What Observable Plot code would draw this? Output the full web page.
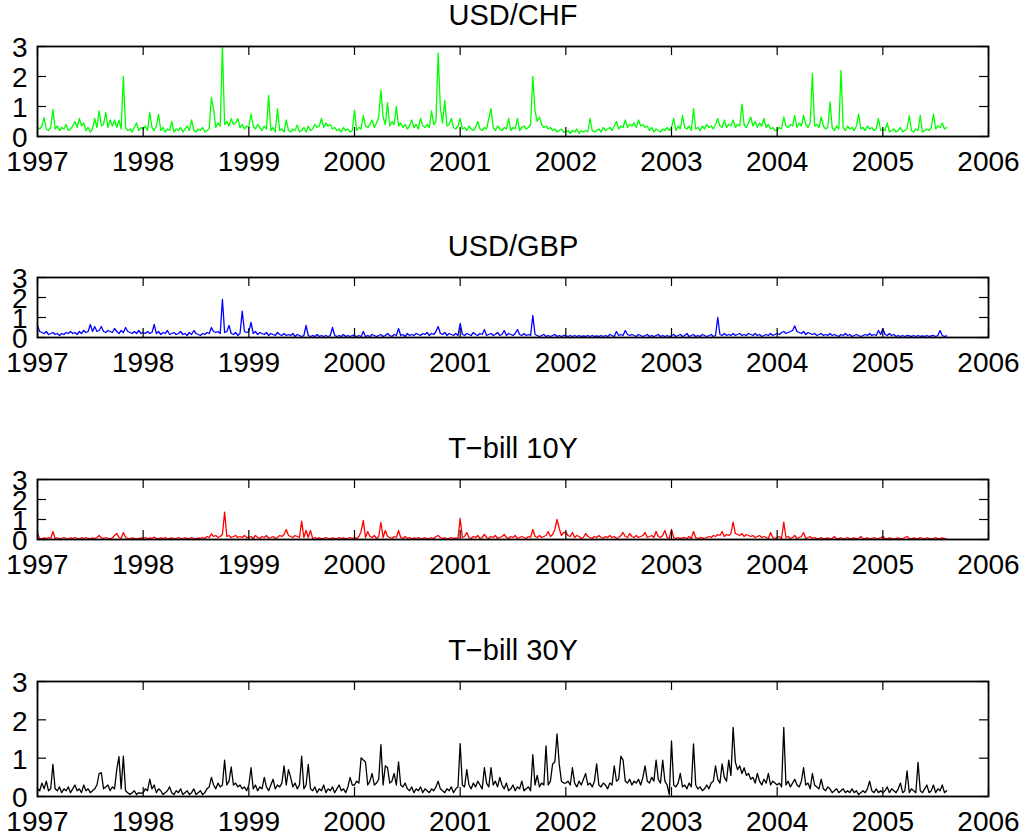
<!DOCTYPE html>
<html><head><meta charset="utf-8">
<script src="https://cdn.jsdelivr.net/npm/d3@7"></script>
<script src="https://cdn.jsdelivr.net/npm/@observablehq/plot@0.6"></script>
<style>
body{margin:0;background:#fff;}
#chart{position:relative;width:1025px;height:838px;overflow:hidden;background:#fff;}
#chart svg{position:absolute;left:0;}
</style></head><body><div id="chart"></div>
<script>
// Tick labels and titles
const years = [1997,1998,1999,2000,2001,2002,2003,2004,2005,2006];
const yTicks = [0,1,2,3];
const titles = ["USD/CHF","USD/GBP","T\u2212bill 10Y","T\u2212bill 30Y"];
const startYear = 1997;
const pointsPerYear = 48; // roughly weekly readings

// USD/CHF series (rows = years 1997..2005)
const usdChf = [
.3,.25,.35,.63,.25,.2,.3,.9,.25,.35,.2,.3,.25,.4,.2,.25,.35,.5,.3,.6,.35,.45,.2,.3,.15,.25,.6,.3,.85,.35,.4,.8,.3,.55,.35,.55,.3,.55,.25,2.0,.3,.2,.25,.15,.3,.45,.2,.3,
.25,.35,.2,.8,.3,.2,.35,.74,.2,.3,.15,.25,.2,.5,.15,.25,.2,.3,.15,.25,.35,.2,.55,.2,.15,.25,.2,.3,.15,.2,.25,1.3,.9,.3,.45,.35,3.0,.4,.5,.35,.6,.4,.45,.6,.3,.4,.25,.35,
.3,.75,.35,.25,.4,.3,.2,.35,.25,1.37,.2,.3,.15,.92,.2,.25,.15,.55,.2,.15,.25,.2,.38,.15,.2,.3,.15,.35,.2,.25,.4,.3,.35,.6,.3,.45,.35,.4,.25,.3,.2,.25,.15,.3,.2,.25,.15,.2,
.88,.2,.3,.25,.7,.35,.3,.4,.55,.3,.45,.65,1.55,.65,.4,1.13,.35,.5,.4,1.0,.35,.45,.3,.4,.25,.35,.55,.3,.4,.25,.6,.35,.3,.4,.3,.85,.4,.5,2.78,.95,.45,1.2,.35,.4,.6,.3,.25,.35,
.6,.25,.3,.2,.35,.25,.2,.3,.5,.25,.2,.3,.25,.6,.93,.3,.2,.35,.25,.2,.3,.25,.6,.2,.3,.25,.6,.2,.3,.35,.25,.3,.4,2.0,.85,.5,.65,.4,.3,.35,.25,.3,.2,.25,.15,.2,.25,.15,
.15,.2,.1,.2,.15,.25,.1,.2,.15,.2,.15,.6,.2,.15,.2,.25,.15,.3,.2,.25,.3,.2,.35,.5,.25,.35,.3,.55,.3,.4,.35,.45,.3,.55,.35,.4,.3,.35,.2,.3,.15,.25,.2,.15,.25,.2,.3,.2,
.3,.6,.2,.35,.25,.7,.3,.25,.35,.2,.93,.25,.3,.2,.35,.25,.4,.3,.35,.25,.4,.6,.35,.3,.55,.3,.4,.35,.55,.3,.4,.35,1.08,.4,.3,.45,.65,.35,.5,.3,.45,.35,.6,.3,.4,.25,.3,.2,
.2,.3,.25,.65,.35,.3,.4,.35,.7,.3,.45,.35,.7,.4,.3,.45,2.1,.35,.4,.3,.65,.35,.25,.3,1.15,.3,.2,.35,.25,2.2,.3,.2,.35,.25,.3,.2,.35,.75,.25,.3,.2,.35,.25,.3,.2,.25,.6,.2,
.25,.2,.45,.15,.2,.25,.15,.2,.3,.15,.2,.25,.7,.2,.15,.25,.2,.7,.15,.2,.25,.2,.3,.75,.25,.35,.3,.45,.25,.3
];

// USD/GBP series
const usdGbp = [
.6,.3,.25,.2,.3,.15,.2,.25,.15,.2,.1,.2,.15,.25,.2,.3,.2,.25,.15,.3,.2,.35,.25,.3,.65,.3,.55,.3,.35,.55,.3,.25,.35,.3,.25,.45,.3,.2,.35,.25,.5,.3,.25,.2,.3,.2,.35,.2,
.25,.2,.3,.2,.25,.65,.2,.3,.15,.25,.2,.35,.15,.2,.25,.15,.2,.3,.15,.2,.1,.25,.15,.35,.2,.15,.1,.2,.15,.25,.2,.5,.3,.25,.3,.2,1.9,.25,.3,.6,.2,.15,.25,.1,.2,1.32,.3,.25,
.3,.75,.2,.3,.15,.25,.2,.15,.25,.1,.2,.15,.1,.25,.15,.1,.2,.1,.15,.1,.2,.05,.15,.1,.05,.1,.6,.1,.05,.1,.05,.15,.05,.1,.05,.1,.05,.1,.5,.1,.05,.1,.05,.15,.05,.1,.05,.1,
.1,.05,.1,.05,.3,.05,.1,.05,.15,.1,.05,.1,.15,.05,.1,.2,.1,.05,.15,.1,.45,.1,.15,.05,.2,.1,.15,.1,.2,.15,.1,.2,.15,.25,.1,.2,.15,.3,.55,.2,.15,.25,.1,.2,.15,.1,.2,.1,
.7,.15,.1,.2,.15,.1,.25,.15,.1,.2,.15,.4,.1,.15,.2,.1,.15,.25,.1,.15,.35,.1,.2,.15,.1,.2,.4,.15,.1,.2,.1,.15,.1,1.1,.15,.1,.05,.1,.15,.05,.1,.05,.1,.15,.05,.1,.05,.1,
.1,.05,.1,.05,.1,.05,.1,.05,.08,.05,.1,.05,.1,.05,.08,.05,.1,.05,.1,.05,.15,.1,.05,.3,.1,.15,.1,.35,.15,.1,.15,.1,.05,.15,.1,.05,.1,.15,.05,.1,.05,.1,.15,.05,.1,.05,.1,.05,
.1,.15,.05,.1,.15,.05,.1,.2,.05,.1,.15,.05,.1,.05,.15,.1,.05,.1,.15,.05,.1,1.0,.15,.1,.2,.1,.15,.1,.2,.1,.15,.2,.1,.15,.1,.2,.15,.1,.2,.1,.15,.05,.1,.15,.1,.2,.1,.15,
.2,.15,.25,.3,.2,.25,.3,.35,.58,.3,.25,.2,.3,.15,.25,.2,.15,.2,.1,.15,.2,.1,.15,.1,.2,.1,.15,.1,.05,.15,.1,.2,.1,.15,.05,.1,.15,.1,.05,.1,.15,.1,.2,.1,.15,.1,.35,.15,
.45,.15,.1,.2,.1,.15,.05,.1,.05,.1,.05,.1,.08,.05,.1,.05,.1,.05,.08,.05,.1,.05,.08,.1,.05,.1,.35,.1,.05,.08
];

// T-bill 10Y series
const tbill10 = [
.3,.05,.03,.08,.05,.1,.05,.4,.05,.08,.03,.05,.1,.05,.03,.08,.05,.1,.05,.03,.08,.05,.1,.05,.03,.08,.05,.1,.2,.08,.05,.1,.05,.03,.08,.2,.3,.1,.05,.35,.1,.05,.03,.08,.05,.03,.05,.08,
.05,.1,.03,.08,.05,.12,.05,.03,.08,.05,.1,.03,.05,.08,.03,.05,.1,.05,.03,.08,.05,.03,.1,.05,.03,.08,.05,.1,.05,.15,.1,.28,.15,.2,.1,.15,.25,1.37,.15,.2,.1,.15,.2,.1,.15,.1,.2,.1,
.1,.15,.05,.2,.1,.05,.15,.1,.2,.05,.1,.15,.05,.1,.2,.15,.25,.5,.2,.15,.1,.2,.15,.1,.92,.1,.45,.1,.45,.05,.1,.05,.08,.03,.05,.1,.05,.03,.08,.05,.03,.1,.05,.08,.03,.05,.1,.05,
.1,.05,.15,.4,.95,.1,.4,.15,.1,.2,.05,.15,.85,.1,.45,.15,.1,.05,.15,.1,.45,.1,.05,.15,.05,.1,.03,.08,.05,.1,.03,.05,.08,.03,.05,.1,.05,.15,.2,.1,.05,.08,.03,.05,.1,.05,.08,.05,
1.05,.1,.15,.35,.1,.05,.15,.1,.2,.05,.1,.25,.1,.05,.15,.1,.2,.05,.1,.15,.25,.1,.05,.15,.1,.2,.05,.1,.15,.1,.05,.15,.1,.5,.15,.1,.2,.1,.15,.2,.4,.15,.25,.5,1.0,.55,.2,.35,
.35,.2,.15,.35,.1,.2,.15,.05,.1,.3,.15,.1,.05,.15,.1,.2,.1,.05,.15,.1,.2,.1,.15,.05,.1,.2,.35,.15,.1,.3,.15,.1,.2,.1,.15,.2,.35,.1,.15,.2,.1,.4,.15,.1,.2,.45,.1,.05,
.5,.1,.05,.1,.05,.08,.1,.05,.15,.05,.4,.1,.05,.1,.08,.05,.1,.15,.1,.2,.15,.25,.2,.4,.15,.25,.2,.3,.87,.3,.25,.2,.3,.15,.25,.2,.15,.2,.1,.15,.2,.1,.15,.1,.05,.35,.1,.05,
.1,.15,.05,.87,.1,.15,.05,.1,.2,.05,.1,.15,.35,.05,.1,.15,.05,.1,.03,.05,.1,.03,.05,.08,.03,.05,.15,.03,.05,.08,.03,.05,.1,.03,.05,.08,.03,.05,.15,.03,.05,.08,.03,.05,.1,.03,.05,.08,
.15,.05,.03,.08,.05,.03,.05,.08,.03,.05,.1,.15,.05,.03,.08,.05,.03,.1,.05,.03,.08,.05,.03,.05,.1,.03,.05,.08,.05,.03
];

// T-bill 30Y series
const tbill30 = [
.2,.15,.35,.2,.4,.15,.2,.84,.2,.15,.25,.1,.2,.15,.25,.1,.2,.3,.15,.2,.1,.3,.15,.2,.1,.15,.2,.3,.6,.62,.2,.25,.3,.15,.25,.2,.7,1.04,.2,1.05,.15,.1,.05,.1,.15,.05,.1,.08,
.1,.2,.15,.45,.2,.3,.1,.2,.15,.05,.1,.15,.25,.1,.05,.15,.1,.2,.05,.1,.15,.05,.1,.2,.05,.1,.15,.05,.1,.2,.25,.5,.3,.2,.35,.25,.3,.95,.3,.4,.77,.3,.35,.25,.3,.2,.25,.15,
.3,.75,.2,.3,.15,.25,.2,.5,.25,.15,.3,.45,.2,.3,.25,.35,.8,.3,.7,.5,.25,.35,.2,.3,1.05,.2,.3,.84,.2,.15,.25,.1,.2,.15,.3,.1,.2,.15,.25,.1,.2,.3,.15,.2,.1,.25,.5,.3,
.3,.4,.35,1.01,.95,.9,.3,.4,.6,.3,.35,.45,1.35,.3,.8,.75,.35,.4,.6,.3,.9,.3,.25,.35,.2,.15,.25,.1,.2,.15,.25,.1,.2,.15,.1,.2,.15,.25,.4,.2,.15,.1,.2,.15,.25,.1,.2,.25,
1.38,.3,.25,.7,.3,.2,.35,.25,.4,.3,.2,.75,.35,.25,.75,.3,.4,.25,.5,.3,.2,.35,.15,.2,.3,.15,.25,.2,.4,.15,.2,.25,.15,1.09,.3,.55,.25,.35,.3,1.32,.3,.4,.85,.9,1.63,.85,.4,.35,
.35,.4,.3,.75,.35,.25,.4,.3,.45,.6,.3,.35,.25,.4,.85,.3,.25,.35,.3,.2,.35,.3,.8,.4,.45,1.05,.95,.4,.35,.45,.3,.4,.35,.45,.3,.5,.8,.4,.35,.5,.4,.95,.45,.35,.95,.4,.3,.05,
1.45,.3,.25,.35,.6,.25,.3,.2,.35,.25,1.37,.3,.2,.25,.15,.2,.3,.2,.35,.4,.8,.45,.35,.85,.5,.4,.95,.55,1.8,.9,.7,.8,.6,.75,.55,.6,.45,.5,.35,.6,.4,.3,.45,.35,.6,.3,.4,.35,
.3,.35,.25,1.8,.3,.4,.25,.35,.45,.3,.25,.4,.75,.3,.35,.2,.6,.3,.25,.2,.45,.2,.15,.25,.2,.1,.15,.2,.1,.15,.2,.1,.15,.1,.2,.1,.15,.05,.1,.15,.1,.2,.4,.15,.1,.2,.1,.15,
.1,.15,.25,.1,.2,.15,.1,.2,.35,.1,.15,.67,.1,.2,.15,.1,.89,.15,.1,.2,.3,.1,.15,.3,.1,.2,.15,.3,.1,.15
];

const seriesValues = [usdChf, usdGbp, tbill10, tbill30];
const seriesColors = ["#00ff00", "#0000ff", "#ff0000", "#000000"];

// Layout (pixel geometry of the four stacked axes)
const W = 1025, mL = 37, mR = 37, mT = 46, mB = 42;
const layout = [
  {top: 0, h: 90},
  {top: 231, h: 60},
  {top: 433, h: 60},
  {top: 635, h: 115}
];
const font = '"Liberation Sans", Arial, Helvetica, sans-serif';
const chart = document.getElementById("chart");

seriesValues.forEach((vals, k) => {
  const data = vals.map((v, i) => ({t: startYear + i / pointsPerYear, v}));
  const {top, h} = layout[k];
  const plotW = W - mL - mR;
  const svg = Plot.plot({
    width: W, height: mT + h + mB,
    marginLeft: mL, marginRight: mR, marginTop: mT, marginBottom: mB,
    style: {fontFamily: font, fontSize: "28px", background: "white", overflow: "visible", color: "black"},
    x: {domain: [years[0], years[years.length - 1]]},
    y: {domain: [yTicks[0], yTicks[yTicks.length - 1]]},
    marks: [
      Plot.line(data, {x: "t", y: "v", stroke: seriesColors[k], strokeWidth: 1.3}),
      Plot.tickX(years, {x: d => d, stroke: "black", strokeWidth: 1.2, insetBottom: h - 9}),
      Plot.tickX(years, {x: d => d, stroke: "black", strokeWidth: 1.2, insetTop: h - 9}),
      Plot.tickY(yTicks, {y: d => d, stroke: "black", strokeWidth: 1.2, insetRight: plotW - 9}),
      Plot.tickY(yTicks, {y: d => d, stroke: "black", strokeWidth: 1.2, insetLeft: plotW - 9}),
      Plot.frame({stroke: "black", strokeWidth: 1.8}),
      Plot.axisX({ticks: years, tickSize: 0, tickPadding: 15, tickFormat: "d", label: null}),
      Plot.axisY({ticks: yTicks, tickSize: 0, tickPadding: 10, tickFormat: "d", label: null, dy: 2}),
      Plot.text([titles[k]], {text: d => d, frameAnchor: "top", lineAnchor: "middle", dy: -31, fontSize: 29})
    ]
  });
  svg.style.top = top + "px";
  chart.appendChild(svg);
});
</script></body></html>
